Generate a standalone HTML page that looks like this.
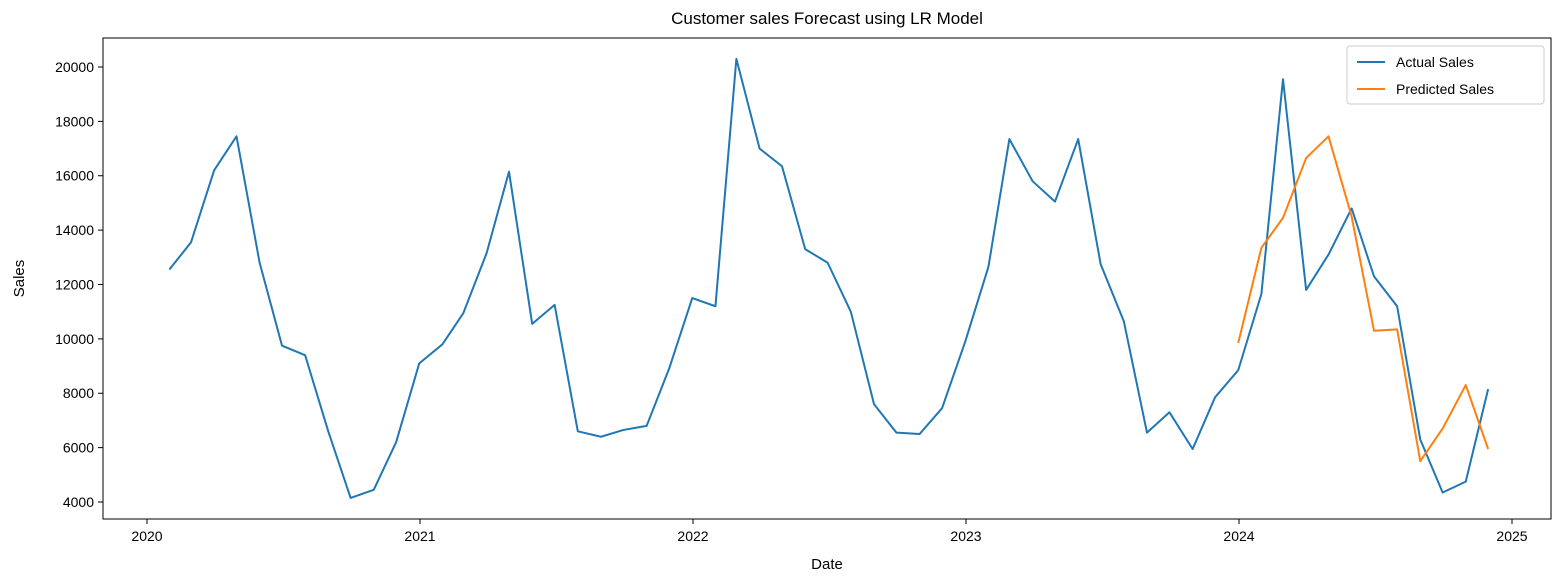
<!DOCTYPE html>
<html><head><meta charset="utf-8"><style>
body{margin:0;background:#fff;font-family:"Liberation Sans","DejaVu Sans",sans-serif}
</style></head><body>
<svg id="chart" width="1566" height="583" xmlns="http://www.w3.org/2000/svg" font-family="Liberation Sans, DejaVu Sans, sans-serif"></svg>
<script>
const actualDates = [];
for (let y = 2020; y <= 2024; y++) for (let m = 1; m <= 12; m++) { if (y === 2024 && m === 12) break; actualDates.push([y, m]); }
const actualSales = [12550,13550,16200,17450,12800,9750,9400,6600,4150,4450,6200,9100,
 9800,10950,13150,16150,10550,11250,6600,6400,6650,6800,8900,11500,
 11200,20300,17000,16350,13300,12800,11000,7600,6550,6500,7450,9900,
 12650,17350,15800,15050,17350,12750,10650,6550,7300,5950,7850,8850,
 11650,19550,11800,13100,14800,12300,11200,6300,4350,4750,8150];
const predDates = [[2023,12],[2024,1],[2024,2],[2024,3],[2024,4],[2024,5],[2024,6],[2024,7],[2024,8],[2024,9],[2024,10],[2024,11]];
const predSales = [9850,13350,14450,16650,17450,14500,10300,10350,5500,6700,8300,5950];
const yTicks = [4000,6000,8000,10000,12000,14000,16000,18000,20000];
const xTicks = [2020,2021,2022,2023,2024,2025];

const L=103,R=1551,T=38,B=519;
function dayFrac(y,m){ // last day of month -> fractional year
  const end = new Date(Date.UTC(y,m,0)); const start=new Date(Date.UTC(y,0,1)); const nxt=new Date(Date.UTC(y+1,0,1));
  return y + (end-start)/(nxt-start);
}
function xs(v){ return 147 + (v-2020)*273; }
function ys(v){ return 502 - (v-4000)*0.027188; }
const svg=document.getElementById('chart'), NS='http://www.w3.org/2000/svg';
function el(tag,attrs,parent){const e=document.createElementNS(NS,tag);for(const k in attrs)e.setAttribute(k,attrs[k]);(parent||svg).appendChild(e);return e;}

const title=el('text',{x:(L+R)/2,y:24,'text-anchor':'middle','font-size':17,fill:'#000'});
title.textContent='Customer sales Forecast using LR Model';



yTicks.forEach(v=>{
  const g=el('g',{});
  
  
  el('line',{x1:L-5,x2:L,y1:ys(v),y2:ys(v),stroke:'#000'},g);
  const t=el('text',{x:L-9,y:ys(v)+5,'text-anchor':'end','font-size':14,fill:'#000'},g);t.textContent=v;
});
xTicks.forEach(v=>{
  const g=el('g',{});
  
  
  el('line',{x1:xs(v),x2:xs(v),y1:B,y2:B+5,stroke:'#000'},g);
  const t=el('text',{x:xs(v),y:B+22,'text-anchor':'middle','font-size':14,fill:'#000'},g);t.textContent=v;
});
const xl=el('text',{x:(L+R)/2,y:569,'text-anchor':'middle','font-size':15});xl.textContent='Date';


const yl=el('text',{x:24,y:(T+B)/2,'text-anchor':'middle','font-size':15,transform:`rotate(-90 24 ${(T+B)/2})`});yl.textContent='Sales';



function line(dates,vals,color,name){
  const p=el('polyline',{points:dates.map((d,i)=>xs(dayFrac(d[0],d[1]))+','+ys(vals[i])).join(' '),fill:'none',stroke:color,'stroke-width':2,'stroke-linejoin':'round'});
  
  
}
line(actualDates,actualSales,'#1f77b4','actual-sales-line');
line(predDates,predSales,'#ff7f0e','predicted-sales-line');

const frame=el('rect',{x:L,y:T,width:R-L,height:B-T,fill:'none',stroke:'#000','stroke-width':1});



const lg=el('g',{});


el('rect',{x:1347,y:46,width:197,height:58,rx:3,fill:'#fff',stroke:'#ccc'},lg);
[['Actual Sales','#1f77b4',62],['Predicted Sales','#ff7f0e',89]].forEach(([n,c,y])=>{
  const g=el('g',{},lg);
  
  
  el('line',{x1:1357,x2:1385,y1:y,y2:y,stroke:c,'stroke-width':2},g);
  const t=el('text',{x:1396,y:y+5,'font-size':14},g);t.textContent=n;
});
</script>
</body></html>
